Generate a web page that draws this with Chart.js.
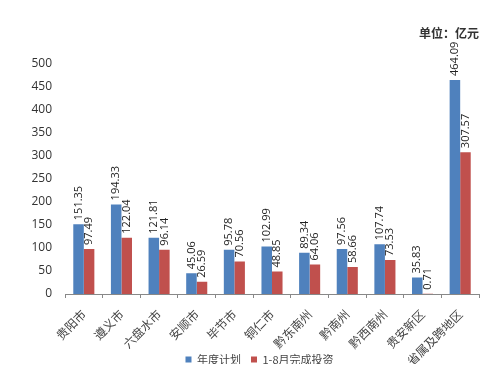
<!DOCTYPE html>
<html>
<head>
<meta charset="utf-8">
<script src="https://cdn.jsdelivr.net/npm/chart.js@4"></script>
<style>
  html, body { margin: 0; padding: 0; background: #fff; }
  #wrap { width: 500px; height: 388px; }
</style>
</head>
<body>
<div id="wrap"><canvas id="chart"></canvas></div>
<script>
const regions = ["贵阳市", "遵义市", "六盘水市", "安顺市", "毕节市", "铜仁市", "黔东南州", "黔南州", "黔西南州", "贵安新区", "省属及跨地区"];
const yearPlan = [151.35, 194.33, 121.81, 45.06, 95.78, 102.99, 89.34, 97.56, 107.74, 35.83, 464.09];
const doneJanAug = [97.49, 122.04, 96.14, 26.59, 70.56, 48.85, 64.06, 58.66, 73.53, 0.71, 307.57];
const yTicks = [0, 50, 100, 150, 200, 250, 300, 350, 400, 450, 500];

const cjk = "'Noto Sans CJK SC', 'Noto Sans', sans-serif";

// rotated value labels above each bar
const valueLabels = {
    id: "valueLabels",
    afterDatasetsDraw(chart) {
        const ctx = chart.ctx;
        ctx.save();
        ctx.font = "11px 'Open Sans', 'DejaVu Sans', sans-serif";
        ctx.fillStyle = "#222";
        ctx.textAlign = "left";
        ctx.textBaseline = "middle";
        chart.data.datasets.forEach((ds, i) => {
            chart.getDatasetMeta(i).data.forEach((bar, j) => {
                ctx.save();
                ctx.translate(bar.x, bar.y - 4);
                ctx.rotate(-Math.PI / 2);
                ctx.fillText(ds.data[j].toFixed(2), 0, 0);
                ctx.restore();
            });
        });
        ctx.restore();
    }
};

// legend sits right of centre and tucked up under the long labels in the original
const shiftLegend = {
    id: "shiftLegend",
    afterLayout(chart) {
        const lg = chart.legend;
        lg.left += 20;
        lg.right += 20;
        lg.top -= 20;
        lg.bottom -= 20;
    }
};

new Chart(document.getElementById("chart").getContext("2d"), {
    type: "bar",
    data: {
        labels: regions,
        datasets: [
            {
                label: "年度计划",
                data: yearPlan,
                backgroundColor: "#4F81BD",
                categoryPercentage: 0.56,
                barPercentage: 1.0
            },
            {
                label: "1-8月完成投资",
                data: doneJanAug,
                backgroundColor: "#C0504D",
                categoryPercentage: 0.56,
                barPercentage: 1.0
            }
        ]
    },
    options: {
        responsive: true,
        maintainAspectRatio: false,
        animation: false,
        layout: { padding: { left: 0, right: 21, top: 0, bottom: 4 } },
        plugins: {
            title: {
                display: true,
                text: "单位：亿元",
                align: "end",
                color: "#333",
                font: { family: cjk, size: 12, weight: "bold" },
                padding: { top: 26, bottom: 23 }
            },
            legend: {
                position: "bottom",
                maxHeight: 20,
                labels: {
                    boxWidth: 6,
                    boxHeight: 6,
                    color: "#444",
                    padding: 10,
                    font: { family: cjk, size: 11 }
                }
            },
            tooltip: { enabled: false }
        },
        scales: {
            x: {
                grid: { drawOnChartArea: false, tickLength: 4, color: "#888" },
                border: { color: "#888" },
                ticks: {
                    maxRotation: 45,
                    minRotation: 45,
                    color: "#444",
                    font: { family: cjk, size: 12 },
                    padding: 9
                },
                afterFit(scale) { scale.height = 70; }
            },
            y: {
                min: 0,
                max: 500,
                afterBuildTicks(scale) { scale.ticks = yTicks.map(v => ({ value: v })); },
                grid: { display: false, drawTicks: false },
                border: { display: false },
                ticks: {
                    color: "#333",
                    padding: 13,
                    font: { family: "'Open Sans', 'DejaVu Sans', sans-serif", size: 12 }
                },
                afterFit(scale) { scale.width = 65; }
            }
        }
    },
    plugins: [valueLabels, shiftLegend]
});
</script>
</body>
</html>
